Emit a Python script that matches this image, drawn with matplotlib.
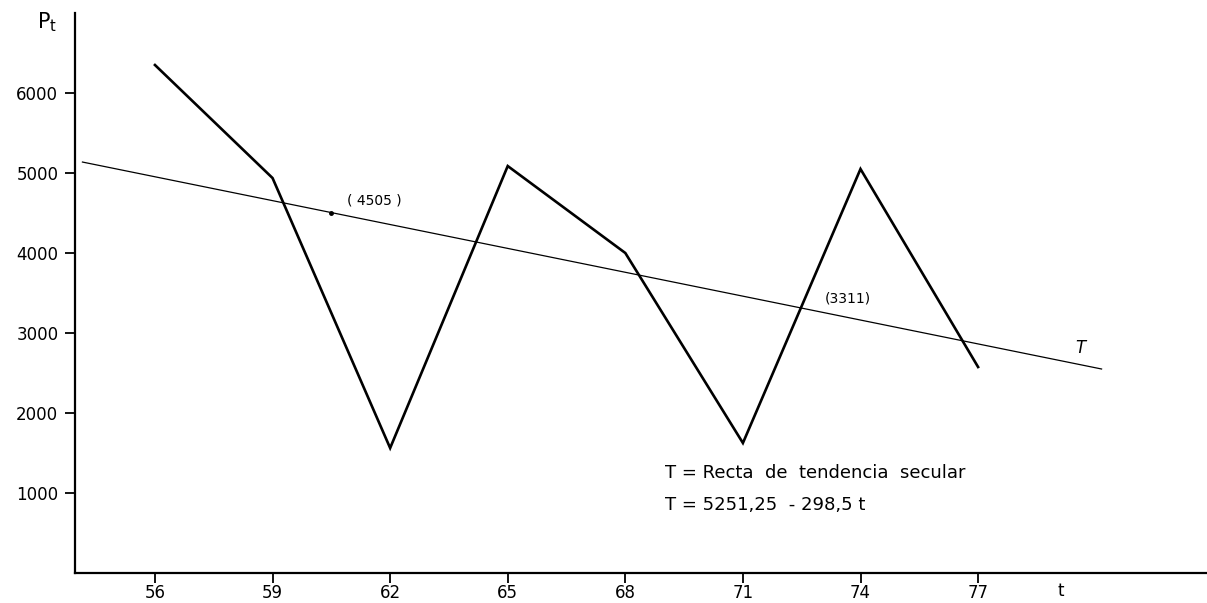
import matplotlib
matplotlib.use("Agg")
import matplotlib.pyplot as plt

# years (t) and production values P_t
years = [56, 59, 62, 65, 68, 71, 74, 77]
prod = [6350, 4937, 1562, 5087, 4000, 1625, 5050, 2575]

# secular trend line T, drawn between its two end points
trend_t = [54.15, 80.15]
trend_v = [5137, 2550]

# trend values marked on the line
mark_t = [60.5]
mark_v = [4505]

y_ticks = [1000, 2000, 3000, 4000, 5000, 6000]

fig = plt.figure(figsize=(12.07, 6.03), dpi=100)
ax = fig.add_axes([75 / 1207, 30 / 603, 1 - 75 / 1207, 560 / 603])

ax.plot(years, prod, color="black", lw=1.9, solid_joinstyle="miter")
ax.plot(trend_t, trend_v, color="black", lw=0.9)
ax.plot(mark_t, mark_v, "o", color="black", ms=2.5)

ax.set_xlim(53.96, 82.84)
ax.set_ylim(0, 7000)
ax.set_xticks(years)
ax.set_yticks(y_ticks)
ax.tick_params(direction="out", length=7, width=1.3, labelsize=12)
ax.tick_params(axis="x", pad=1)
ax.tick_params(axis="y", pad=5)

for side in ["top", "right"]:
    ax.spines[side].set_visible(False)
for side in ["left", "bottom"]:
    ax.spines[side].set_linewidth(1.6)

ax.text(60.5 + 1.1, 4662, "( 4505 )", fontsize=10, ha="center", va="center")
ax.text(73.68, 3425, "(3311)", fontsize=10, ha="center", va="center")
ax.text(79.6, 2812, "T", fontsize=12, ha="center", va="center", style="italic")
ax.text(69.0, 1250, "T = Recta  de  tendencia  secular", fontsize=13, va="center")
ax.text(69.0, 850, "T = 5251,25  - 298,5 t", fontsize=13, va="center")

ax.text(79.1, -230, "t", fontsize=12, ha="center", va="center")
fig.text(47 / 1207, 1 - 22 / 603, "P$_\\mathrm{t}$", fontsize=15, ha="center", va="center")

fig.savefig("out.png", dpi=100)
